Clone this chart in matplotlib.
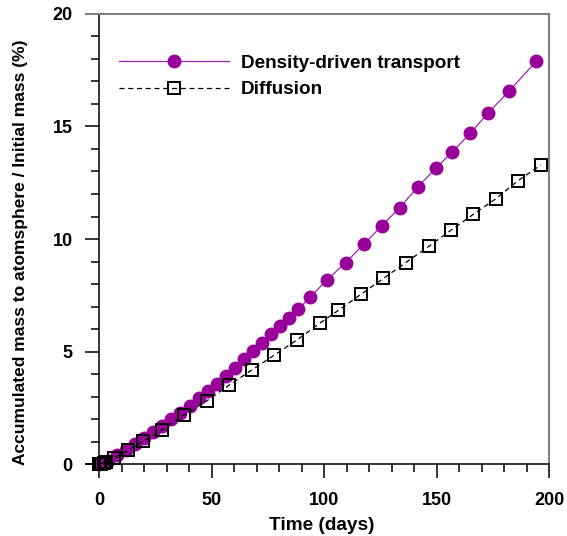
import numpy as np
import matplotlib
matplotlib.use("Agg")
import matplotlib.pyplot as plt
from matplotlib.ticker import MultipleLocator

plt.rcParams['font.family'] = ['Liberation Sans', 'DejaVu Sans']
plt.rcParams['font.weight'] = 'bold'

# density-driven transport (circles)
dd_days = [0, 1, 2, 4, 8, 12, 16, 20, 24, 28, 32, 36, 40.4, 44.3, 48.3, 52.4,
           56.4, 60.4, 64.6, 68.4, 72.4, 76.4, 80.4, 84.6, 88.6, 93.9, 101.2,
           109.6, 117.6, 125.6, 133.6, 141.6, 149.6, 157.0, 165.0, 173.0,
           182.4, 194.4]
dd_mass = [0, 0.03, 0.07, 0.15, 0.38, 0.62, 0.88, 1.15, 1.42, 1.70, 1.99, 2.28,
           2.58, 2.92, 3.26, 3.57, 3.91, 4.28, 4.65, 5.01, 5.39, 5.76, 6.13,
           6.50, 6.88, 7.43, 8.17, 8.95, 9.76, 10.58, 11.39, 12.30, 13.14,
           13.87, 14.70, 15.61, 16.59, 17.91]

# diffusion (squares)
diff_days = [0, 0.5, 1, 2, 3, 6.5, 13.0, 19.7, 27.9, 37.8, 47.9, 57.9, 67.9,
             77.9, 87.9, 98.0, 106.4, 116.4, 126.4, 136.3, 146.5, 156.4,
             166.4, 176.4, 186.2, 196.4]
diff_mass = [0, 0.01, 0.02, 0.05, 0.08, 0.25, 0.62, 1.02, 1.51, 2.18, 2.81,
             3.51, 4.18, 4.84, 5.51, 6.25, 6.83, 7.54, 8.25, 8.95, 9.67, 10.39,
             11.10, 11.79, 12.59, 13.29]

fig = plt.figure(figsize=(5.67, 5.36), dpi=100)
ax = fig.add_axes([0.1517, 0.1343, 0.8166, 0.8396])

ax.plot(dd_days, dd_mass, color='#a020b8', lw=0.9, marker='o', ms=9,
        markerfacecolor='#990099', markeredgecolor='#990099',
        label='Density-driven transport', clip_on=False, zorder=3)
ax.plot(diff_days, diff_mass, color='black', lw=0.9, ls=(0, (4, 3)),
        marker='s', ms=8.5, markerfacecolor='none', markeredgecolor='black',
        markeredgewidth=1.4, label='Diffusion', clip_on=False, zorder=4)

ax.set_xlim(-5.8, 200)
ax.set_ylim(0, 20)

ax.spines['left'].set_position(('data', 0))
for s in ['top', 'right']:
    ax.spines[s].set_color('#808080')
    ax.spines[s].set_linewidth(1.5)
for s in ['left', 'bottom']:
    ax.spines[s].set_linewidth(1.1)

ax.xaxis.set_major_locator(MultipleLocator(50))
ax.xaxis.set_minor_locator(MultipleLocator(10))
ax.yaxis.set_major_locator(MultipleLocator(5))
ax.yaxis.set_minor_locator(MultipleLocator(1))
ax.tick_params(which='major', direction='out', length=10, width=1.1,
               labelsize=13, pad=10)
ax.tick_params(which='minor', direction='out', length=5.5, width=1.1)
ax.tick_params(axis='y', which='major', pad=9)

ax.set_xlabel('Time (days)', fontsize=13.7, fontweight='bold', labelpad=6)
ax.set_ylabel('Accumulated mass to atomsphere / Initial mass (%)',
              fontsize=12.5, fontweight='bold', labelpad=18)
ax.xaxis.label.set_x(0.509)
ax.yaxis.label.set_y(0.471)

ax.legend(loc='upper left', bbox_to_anchor=(0.035, 0.948), frameon=False,
          handlelength=5.8, handletextpad=0.65, labelspacing=0.5,
          prop={'size': 13.6, 'weight': 'bold'})

fig.savefig('out.png', dpi=100)
